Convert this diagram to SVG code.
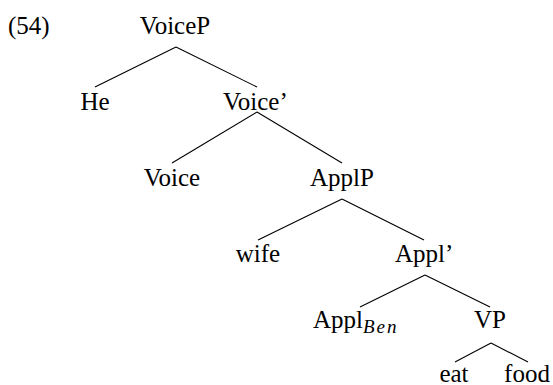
<svg xmlns="http://www.w3.org/2000/svg" width="553" height="385" viewBox="0 0 553 385">
<style>
text{font-family:"Liberation Serif","Times New Roman",Times,serif;font-size:25px;fill:#000}
.m{text-anchor:middle}
.sub{font-style:italic;font-size:19px;letter-spacing:2px}
#edges line{stroke:#000;stroke-width:1.1}
</style>
<rect width="553" height="385" fill="#fff"/>
<text x="8" y="34">(54)</text>
<g id="edges">
<line x1="176" y1="47" x2="95" y2="87"/>
<line x1="176" y1="47" x2="257" y2="87"/>
<line x1="257" y1="112" x2="172" y2="163"/>
<line x1="257" y1="112" x2="342" y2="163"/>
<line x1="342" y1="199" x2="258" y2="240"/>
<line x1="342" y1="199" x2="424" y2="240"/>
<line x1="425" y1="275" x2="360" y2="307"/>
<line x1="425" y1="275" x2="490" y2="307"/>
<line x1="491" y1="343" x2="455" y2="362"/>
<line x1="491" y1="343" x2="528" y2="362"/>
</g>
<g id="n-voiceP"><text class="m" x="175" y="34">VoiceP</text></g>
<g id="n-he"><text class="m" x="95" y="110">He</text></g>
<g id="n-voicebar"><text x="223" y="110">Voice’</text></g>
<g id="n-voice"><text class="m" x="172" y="186">Voice</text></g>
<g id="n-applP"><text class="m" x="342" y="186">ApplP</text></g>
<g id="n-wife"><text class="m" x="258" y="262">wife</text></g>
<g id="n-applbar"><text x="395" y="262">Appl’</text></g>
<g id="n-applben"><text x="313" y="328">Appl<tspan class="sub" dy="5">Ben</tspan></text></g>
<g id="n-vp"><text class="m" x="490" y="328">VP</text></g>
<g id="n-eat"><text class="m" x="454" y="382">eat</text></g>
<g id="n-food"><text class="m" x="527" y="382">food</text></g>
</svg>
